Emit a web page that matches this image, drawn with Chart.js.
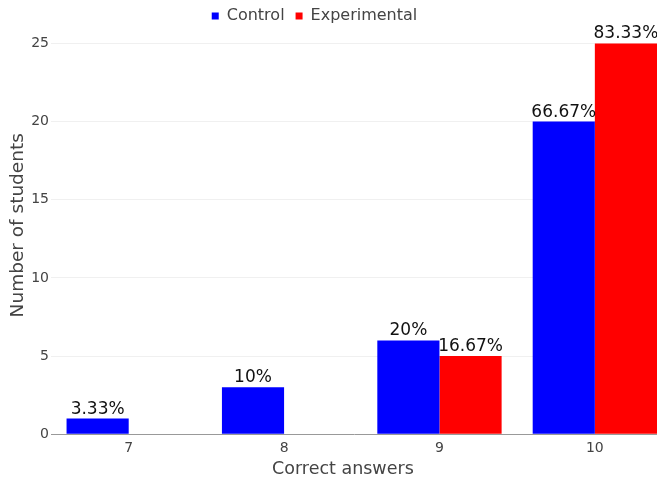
<!DOCTYPE html>
<html>
<head>
<meta charset="utf-8">
<script src="https://cdn.jsdelivr.net/npm/chart.js@4.4.1/dist/chart.umd.min.js"></script>
<style>
  html, body { margin: 0; padding: 0; background: #fff; overflow: hidden; }
  #wrap { width: 657px; height: 479px; }
</style>
</head>
<body>
<div id="wrap"><canvas id="chart"></canvas></div>
<script>
// ====================================================
// Datos
// ====================================================
const answers = [7, 8, 9, 10];
const controlCounts = [1, 3, 6, 20];
const experimentalCounts = [0, 0, 5, 25];
const controlLabels = ["3.33%", "10%", "20%", "66.67%"];
const experimentalLabels = ["", "", "16.67%", "83.33%"];
const yTicks = [0, 5, 10, 15, 20, 25];

const FONT = "DejaVu Sans";
const NBSP = "\u00a0";

// Etiquetas de porcentaje encima de cada barra
const barLabels = {
  id: "barLabels",
  afterDatasetsDraw(chart) {
    const ctx = chart.ctx;
    ctx.save();
    ctx.font = "17px '" + FONT + "'";
    ctx.fillStyle = "#111";
    ctx.textAlign = "center";
    ctx.textBaseline = "alphabetic";
    chart.data.datasets.forEach((ds, i) => {
      const meta = chart.getDatasetMeta(i);
      meta.data.forEach((bar, j) => {
        const txt = ds.pctLabels[j];
        if (txt) ctx.fillText(txt, bar.x, bar.y - 5);
      });
    });
    ctx.restore();
  },
};

// Desplaza la leyenda un poco a la izquierda, como en el original
const legendShift = {
  id: "legendShift",
  afterLayout(chart) {
    chart.legend.left -= 17;
    chart.legend.right -= 17;
  },
};

function toPoints(values) {
  return answers.map((a, i) => ({ x: a, y: values[i] }));
}

new Chart(document.getElementById("chart"), {
  type: "bar",
  data: {
    datasets: [
      {
        label: "Control",
        data: toPoints(controlCounts),
        pctLabels: controlLabels,
        backgroundColor: "#0000ff",
        borderWidth: 0,
      },
      {
        label: "Experimental",
        data: toPoints(experimentalCounts),
        pctLabels: experimentalLabels,
        backgroundColor: "#ff0000",
        borderWidth: 0,
      },
    ],
  },
  options: {
    responsive: true,
    maintainAspectRatio: false,
    animation: false,
    categoryPercentage: 0.8,
    barPercentage: 1.0,
    layout: { padding: { left: 6, right: 0, top: -3, bottom: -1 } },
    plugins: {
      legend: {
        position: "top",
        labels: {
          boxWidth: 7,
          boxHeight: 7,
          padding: 11,
          color: "#444",
          font: { family: FONT, size: 16 },
        },
      },
      tooltip: { enabled: false },
    },
    scales: {
      x: {
        type: "linear",
        offset: false,
        min: 6.5,
        max: 10.4,
        afterBuildTicks: (s) => { s.ticks = answers.map((v) => ({ value: v })); },
        grid: { display: false, drawTicks: false },
        border: { display: true, color: "#999", width: 1 },
        ticks: { color: "#444", padding: 6, font: { family: FONT, size: 14 } },
        title: {
          display: true,
          // espacios finales para centrar el título algo más a la izquierda
          text: "Correct answers" + NBSP.repeat(4),
          color: "#444",
          font: { family: FONT, size: 17.5 },
          padding: { top: -4, bottom: 0 },
        },
      },
      y: {
        min: 0,
        max: 25.6,
        afterBuildTicks: (s) => { s.ticks = yTicks.map((v) => ({ value: v })); },
        grid: {
          drawTicks: false,
          color: (c) => (c.tick && c.tick.value === 0 ? "rgba(0,0,0,0)" : "#f0f0f0"),
        },
        border: { display: false },
        ticks: { color: "#444", padding: 2, font: { family: FONT, size: 14 } },
        title: {
          display: true,
          text: NBSP.repeat(3) + "Number of students",
          color: "#444",
          font: { family: FONT, size: 18.5 },
          padding: { top: 1, bottom: 0 },
        },
      },
    },
  },
  plugins: [barLabels, legendShift],
});
</script>
</body>
</html>
